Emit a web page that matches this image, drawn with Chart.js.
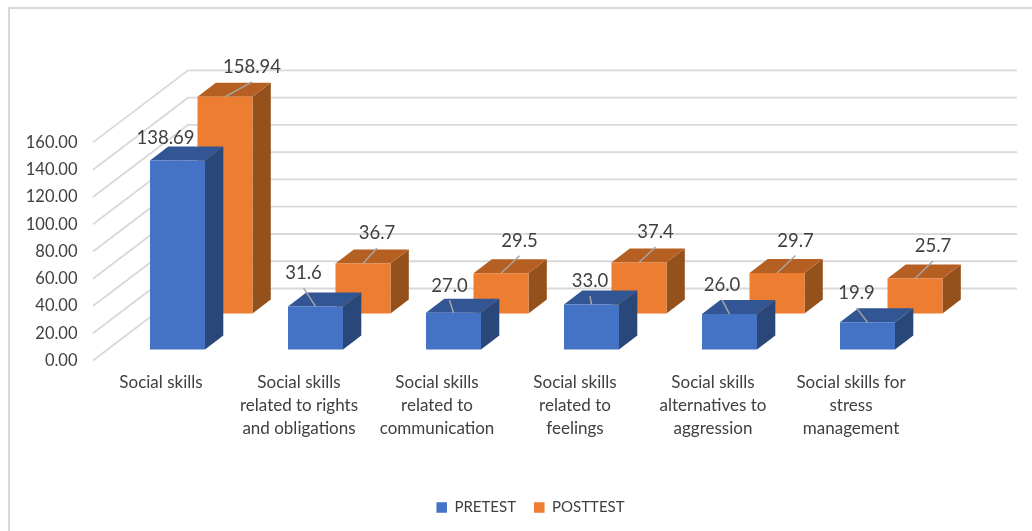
<!DOCTYPE html>
<html>
<head>
<meta charset="utf-8">
<style>html,body{margin:0;padding:0;background:#fff}canvas{display:block}</style>
<script src="https://cdn.jsdelivr.net/npm/chart.js@4"></script>
</head>
<body>
<canvas id="c" width="1032" height="531"></canvas>
<script>
const categories = [
  ['Social skills'],
  ['Social skills', 'related to rights', 'and obligations'],
  ['Social skills', 'related to', 'communication'],
  ['Social skills', 'related to', 'feelings'],
  ['Social skills', 'alternatives to', 'aggression'],
  ['Social skills for', 'stress', 'management']
];
const pretest = [138.69, 31.6, 27.0, 33.0, 26.0, 19.9];
const posttest = [158.94, 36.7, 29.5, 37.4, 29.7, 25.7];
const yTicksStep = 20;

// Label placement relative to the top-front centre of each bar
const preLabelDx = [-12, -12, -4, -1.5, -7.5, -11];
const preLabelDy = [-22, -33, -27, -23, -29, -29];
const preLeader = [false, true, true, true, true, true];
const postLabelDx = [27, 14, 18.5, 16.5, 18.5, 18];
const postLabelDy = [-29.5, -30, -32, -30, -32, -32];
const postLeader = [true, true, true, true, true, true];

const FONT = 'Lato';
const TEXT = '#404040';
const GRID = '#d9d9d9';
const BAR_DX = 18.3, BAR_DY = 14;     // visible depth of a bar
const ROW_DX = 47.5, ROW_DY = 36;     // offset of the rear row
const faces = [
  {side: '#2a4779', top: '#325594'},
  {side: '#95511c', top: '#b56022'}
];
const labelSets = [
  {dx: preLabelDx, dy: preLabelDy, leader: preLeader},
  {dx: postLabelDx, dy: postLabelDy, leader: postLeader}
];

function poly(ctx, pts, fill) {
  ctx.beginPath();
  pts.forEach((p, i) => i ? ctx.lineTo(p[0], p[1]) : ctx.moveTo(p[0], p[1]));
  ctx.closePath();
  ctx.fillStyle = fill;
  ctx.fill();
}

const threeD = {
  id: 'threeD',
  beforeDraw(chart) {
    const ctx = chart.ctx;
    ctx.save();
    ctx.strokeStyle = GRID;
    ctx.lineWidth = 2;
    ctx.beginPath();
    ctx.moveTo(9, 531);
    ctx.lineTo(9, 8);
    ctx.lineTo(1032, 8);
    ctx.stroke();
    ctx.restore();
  },
  beforeDatasetsDraw(chart) {
    const ctx = chart.ctx, y = chart.scales.y;
    ctx.save();
    ctx.strokeStyle = GRID;
    ctx.lineWidth = 1.8;
    y.ticks.forEach((t, i) => {
      const p = y.getPixelForTick(i);
      ctx.beginPath();
      ctx.moveTo(93, p + 11);
      ctx.lineTo(188, p - 61);
      ctx.lineTo(1017, p - 61);
      ctx.stroke();
    });
    ctx.restore();
  },
  beforeDatasetDraw(chart, args) {
    const ctx = chart.ctx, f = faces[args.index];
    ctx.save();
    if (args.index === 1) ctx.translate(ROW_DX, -ROW_DY);
    args.meta.data.forEach(b => {
      const l = b.x - b.width / 2, r = b.x + b.width / 2, t = b.y, g = b.base;
      poly(ctx, [[r, t], [r + BAR_DX, t - BAR_DY], [r + BAR_DX, g - BAR_DY], [r, g]], f.side);
      poly(ctx, [[l, t], [l + BAR_DX, t - BAR_DY], [r + BAR_DX, t - BAR_DY], [r, t]], f.top);
    });
  },
  afterDatasetDraw(chart) {
    chart.ctx.restore();
  },
  afterDatasetsDraw(chart) {
    const ctx = chart.ctx;
    ctx.save();
    [1, 0].forEach(ds => {
      const meta = chart.getDatasetMeta(ds), set = labelSets[ds];
      const sx = ds ? ROW_DX : 0, sy = ds ? -ROW_DY : 0;
      meta.data.forEach((b, i) => {
        const x = b.x + sx, y = b.y + sy;
        const lx = x + set.dx[i], ly = y + set.dy[i];
        if (set.leader[i]) {
          ctx.strokeStyle = '#a6a6a6';
          ctx.lineWidth = 1.5;
          ctx.beginPath();
          ctx.moveTo(x, y);
          ctx.lineTo(lx, ly + 14.5);
          ctx.stroke();
        }
        const v = chart.data.datasets[ds].data[i];
        ctx.fillStyle = TEXT;
        ctx.font = '18.5px ' + FONT;
        ctx.textAlign = 'center';
        ctx.textBaseline = 'middle';
        ctx.fillText(v.toFixed(i === 0 ? 2 : 1), lx, ly);
      });
    });
    ctx.restore();
  }
};

new Chart(document.getElementById('c'), {
  type: 'bar',
  data: {
    labels: categories,
    datasets: [
      {label: 'PRETEST', data: pretest, backgroundColor: '#4472c4', clip: false},
      {label: 'POSTTEST', data: posttest, backgroundColor: '#ed7d31', clip: false}
    ]
  },
  options: {
    responsive: false,
    animation: false,
    grouped: false,
    categoryPercentage: 1,
    barPercentage: 55 / 138,
    layout: {padding: {left: 20, right: -9, top: 131.4, bottom: 6}},
    plugins: {
      tooltip: {enabled: false},
      legend: {
        position: 'bottom',
        labels: {
          boxWidth: 10.5, boxHeight: 10.5, padding: 18,
          color: TEXT, font: {family: FONT, size: 15}
        }
      }
    },
    scales: {
      x: {
        grid: {display: false, drawTicks: false},
        border: {display: false},
        afterFit: s => { s.height = 132.5; },
        ticks: {
          autoSkip: false, maxRotation: 0, minRotation: 0,
          labelOffset: -16.5, padding: 22,
          color: TEXT,
          font: {family: FONT, size: 17, lineHeight: '22.7px'}
        }
      },
      y: {
        min: 0, max: 160,
        grid: {display: false, drawTicks: false},
        border: {display: false},
        afterFit: s => { s.width = 88.5; },
        ticks: {
          stepSize: yTicksStep, padding: 31, labelOffset: 11,
          color: TEXT,
          font: {family: FONT, size: 16.5},
          callback: v => v.toFixed(2)
        }
      },
      yRight: {
        axis: 'y', position: 'right', display: true,
        grid: {display: false, drawTicks: false},
        border: {display: false},
        ticks: {display: false},
        afterFit: s => { s.width = 104.5; }
      }
    }
  },
  plugins: [threeD]
});
</script>
</body>
</html>
